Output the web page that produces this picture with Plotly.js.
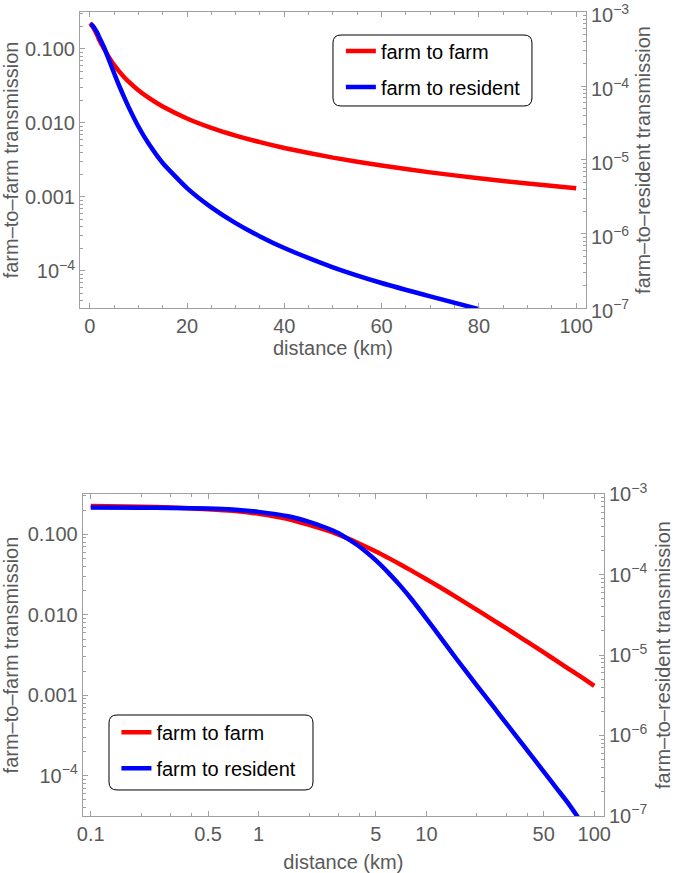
<!DOCTYPE html>
<html>
<head>
<meta charset="utf-8">
<script src="https://cdn.plot.ly/plotly-3.0.1.min.js"></script>
<style>html,body{margin:0;padding:0;background:#fff}#chart{width:675px;height:873px}</style>
</head>
<body>
<div id="chart"></div>
<script>
// distances (km)
const distance = [0.1,0.2,0.3,0.5,0.7,1,1.5,2,2.5,3,4,5,6,7,8,10,12,15,20,25,30,35,40,50,60,70,80,90,100];
// farm-to-farm transmission (left axis)
const farmToFarm = [0.224,0.220,0.215,0.205,0.196,0.180,0.155,0.131,0.1135,0.0991,0.0764,0.0611,0.0502,0.0422,0.0361,0.0276,0.0221,0.01667,0.01151,0.00859,0.00676,0.00551,0.00460,0.00340,0.00266,0.00215,0.00179,0.00152,0.00131];
// farm-to-resident transmission (right axis)
const residentDistance = [0.1,0.2,0.3,0.5,0.7,1,1.5,2,2.5,3,4,5,6,7,8,10,12,15,20,25,30,35,40,50,60,70,80];
const farmToResident = [6.82e-4,6.79e-4,6.75e-4,6.64e-4,6.46e-4,6.03e-4,5.31e-4,4.52e-4,3.85e-4,3.27e-4,2.22e-4,1.50e-4,1.03e-4,7.24e-5,5.19e-5,2.84e-5,1.71e-5,9.12e-6,4.17e-6,2.29e-6,1.40e-6,9.25e-7,6.46e-7,3.54e-7,2.17e-7,1.43e-7,9.6e-8];

const seriesNames = ['farm to farm','farm to resident'];
const leftTickVals = [0.1,0.01,0.001,0.0001];
const leftTickText = ['0.100','0.010','0.001','10<sup>−4</sup>'];
const rightTickVals = [1e-3,1e-4,1e-5,1e-6,1e-7];
const rightTickText = ['10<sup>−3</sup>','10<sup>−4</sup>','10<sup>−5</sup>','10<sup>−6</sup>','10<sup>−7</sup>'];
const linXTickVals = [0,20,40,60,80,100];
const logXTickVals = [0.1,0.5,1,5,10,50,100];
const logXTickText = ['0.1','0.5','1','5','10','50','100'];

function minorLog(lo, hi){ const v=[]; for(let e=lo;e<hi;e++){for(let d=2;d<=9;d++) v.push(d*Math.pow(10,e));} return v; }

const FONT = 'Liberation Sans, Arial, sans-serif';
const FS = 20;
const GRAY = '#5a5a5a';
const AX = '#a0a0a0';
const RED = '#ff0000', BLUE = '#0000ff';
const EPS = 0.002;

function yAx(extra){
  return Object.assign({
    type:'log', showgrid:false, zeroline:false, showline:true, linecolor:AX, linewidth:1,
    ticks:'inside', ticklen:5, tickcolor:AX, tickfont:{family:FONT,size:FS,color:GRAY},
    tickmode:'array', ticklabeloverflow:'allow'
  }, extra);
}
function minorY(lo,hi){ return {ticks:'inside', ticklen:3, tickcolor:AX, tickmode:'array', tickvals:minorLog(lo,hi)}; }

const lineStyle = (c)=>({color:c,width:4.5,shape:'spline',smoothing:0.5});
const traces = [
  {x:distance, y:farmToFarm, xaxis:'x', yaxis:'y', mode:'lines', name:seriesNames[0], legend:'legend', legendgroup:'a', line:lineStyle(RED)},
  {x:residentDistance, y:farmToResident, xaxis:'x', yaxis:'y2', mode:'lines', name:seriesNames[1], legend:'legend', legendgroup:'b', line:lineStyle(BLUE)},
  {x:distance, y:farmToFarm, xaxis:'x2', yaxis:'y3', mode:'lines', name:seriesNames[0], legend:'legend2', legendgroup:'c', line:lineStyle(RED)},
  {x:residentDistance, y:farmToResident, xaxis:'x2', yaxis:'y4', mode:'lines', name:seriesNames[1], legend:'legend2', legendgroup:'d', line:lineStyle(BLUE)}
];

function rrect(x0,y0,x1,y1){
  const rx=8/675, ry=8/873;
  return `M ${x0+rx},${y1} L ${x1-rx},${y1} Q ${x1},${y1} ${x1},${y1-ry} L ${x1},${y0+ry} Q ${x1},${y0} ${x1-rx},${y0} L ${x0+rx},${y0} Q ${x0},${y0} ${x0},${y0+ry} L ${x0},${y1-ry} Q ${x0},${y1} ${x0+rx},${y1} Z`;
}

const legendStyle = {bgcolor:'rgba(0,0,0,0)', borderwidth:0, font:{family:FONT,size:FS,color:'#000'}, tracegroupgap:7, xanchor:'left', yanchor:'top', traceorder:'grouped'};
const titleFont = {family:FONT,size:FS,color:GRAY};

const layout = {
  width:675, height:873, margin:{l:0,r:0,t:0,b:0}, paper_bgcolor:'#fff', plot_bgcolor:'#fff',
  showlegend:true,
  xaxis:{domain:[0.1185,0.868], anchor:'y', range:[-2,102], showgrid:false, zeroline:false, showline:true, linecolor:AX, mirror:'ticks',
    ticks:'inside', ticklen:5, tickcolor:AX, tickmode:'array', tickvals:linXTickVals, ticklabeloverflow:'allow',
    minor:{ticks:'inside', ticklen:3, tickcolor:AX, tickmode:'array', tickvals:[5,10,15,25,30,35,45,50,55,65,70,75,85,90,95]},
    tickfont:{family:FONT,size:FS,color:GRAY}, title:{text:'distance (km)', font:titleFont, standoff:5}},
  yaxis:yAx({domain:[0.6472,0.9863], anchor:'x', range:[-4.5,-0.5], tickvals:leftTickVals, ticktext:leftTickText,
    minor:minorY(-5,0), title:{text:'farm–to–farm transmission', font:titleFont, standoff:5}}),
  yaxis2:yAx({overlaying:'y', side:'right', anchor:'x', range:[-7-EPS,-3+EPS], tickvals:rightTickVals, ticktext:rightTickText,
    ticklabelshift:3,
    minor:minorY(-7,-3), title:{text:'farm–to–resident transmission', font:titleFont, standoff:7}}),
  xaxis2:{domain:[0.1225,0.8948], anchor:'y3', type:'log', range:[-1.048,2.058], showgrid:false, zeroline:false, showline:true, linecolor:AX, mirror:'ticks',
    ticks:'inside', ticklen:5, tickcolor:AX, tickmode:'array', tickvals:logXTickVals, ticktext:logXTickText, ticklabeloverflow:'allow',
    minor:{ticks:'inside', ticklen:3, tickcolor:AX, tickmode:'array', tickvals:[0.2,0.3,0.4,2,3,4,20,30,40]},
    tickfont:{family:FONT,size:FS,color:GRAY}, title:{text:'distance (km)', font:titleFont, standoff:13}},
  yaxis3:yAx({domain:[0.0653,0.4341], anchor:'x2', range:[-4.5,-0.5], tickvals:leftTickVals, ticktext:leftTickText,
    minor:minorY(-5,0), title:{text:'farm–to–farm transmission', font:titleFont, standoff:5}}),
  yaxis4:yAx({overlaying:'y3', side:'right', anchor:'x2', range:[-7-EPS,-3+EPS], tickvals:rightTickVals, ticktext:rightTickText,
    minor:minorY(-7,-3), title:{text:'farm–to–resident transmission', font:titleFont, standoff:9}}),
  legend:Object.assign({x:0.505, y:0.964}, legendStyle),
  legend2:Object.assign({x:0.1725, y:0.1835}, legendStyle),
  shapes:[
    {type:'path', xref:'paper', yref:'paper', path:rrect(0.4933,0.8786,0.7881,0.9599), line:{color:'#000',width:1}},
    {type:'path', xref:'paper', yref:'paper', path:rrect(0.1615,0.0951,0.4637,0.1810), line:{color:'#000',width:1}}
  ]
};

Plotly.newPlot('chart', traces, layout, {staticPlot:true, displayModeBar:false});
</script>
</body>
</html>
